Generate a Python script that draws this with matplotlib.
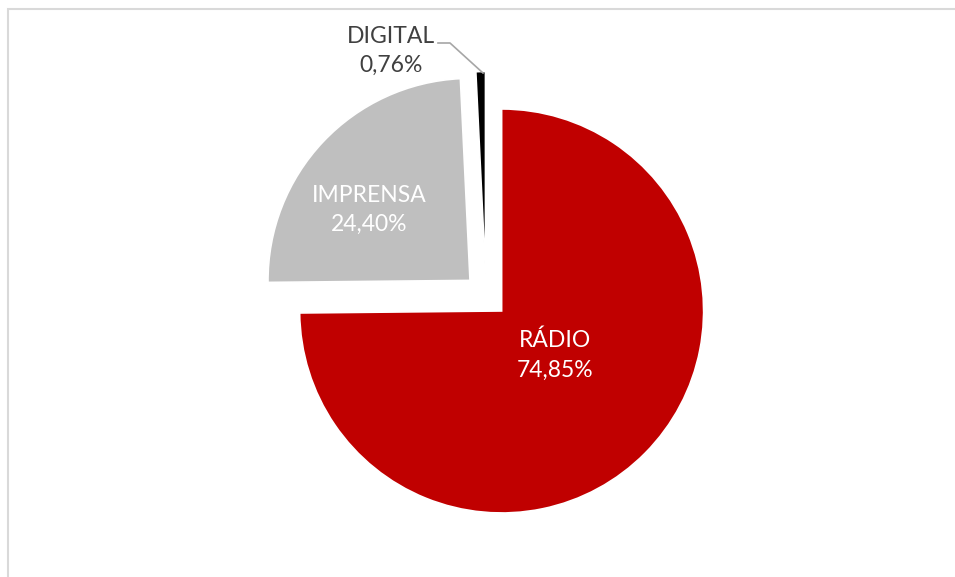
import matplotlib.pyplot as plt
import numpy as np

# Daten
categories = ['RÁDIO', 'IMPRENSA', 'DIGITAL']
values = [74.85, 24.40, 0.76]
pct_labels = ['74,85%', '24,40%', '0,76%']
colors = ['#C00000', '#BFBFBF', '#000000']

W, H = 955, 577
fig = plt.figure(figsize=(W / 100, H / 100), dpi=100)
ax = fig.add_axes([0, 0, 1, 1])

# Kreis in Pixelkoordinaten
center = (486, H - 295.5)
radius = 202
explode = [22, 22, 22]

wedges, _ = ax.pie(values, colors=colors, radius=radius, center=center,
                   startangle=90, counterclock=False, explode=explode,
                   wedgeprops=dict(edgecolor='white', linewidth=1.2),
                   frame=True)
ax.set_xlim(0, W)
ax.set_ylim(0, H)
ax.set_aspect('equal')
ax.axis('off')

font = 'Lato'
fs = 16.5
ls = 1.5

# Beschriftungen
ax.text(555, H - 355, categories[0] + '\n' + pct_labels[0], color='white',
        ha='center', va='center', fontsize=fs, family=font, linespacing=ls)
ax.text(369, H - 210, categories[1] + '\n' + pct_labels[1], color='white',
        ha='center', va='center', fontsize=fs, family=font, linespacing=ls)
ax.text(391, H - 51, categories[2] + '\n' + pct_labels[2], color='#404040',
        ha='center', va='center', fontsize=fs, family=font, linespacing=ls)

# Fuehrungslinie DIGITAL
ax.plot([438, 450, 483], [H - 43, H - 43, H - 73], color='#A6A6A6', lw=1.2)

# Rahmen
ax.plot([7.5, 7.5, W], [0, H - 8.7, H - 8.7], color='#D9D9D9', lw=1.5,
        solid_joinstyle='miter')

plt.savefig('out.png', dpi=100)
